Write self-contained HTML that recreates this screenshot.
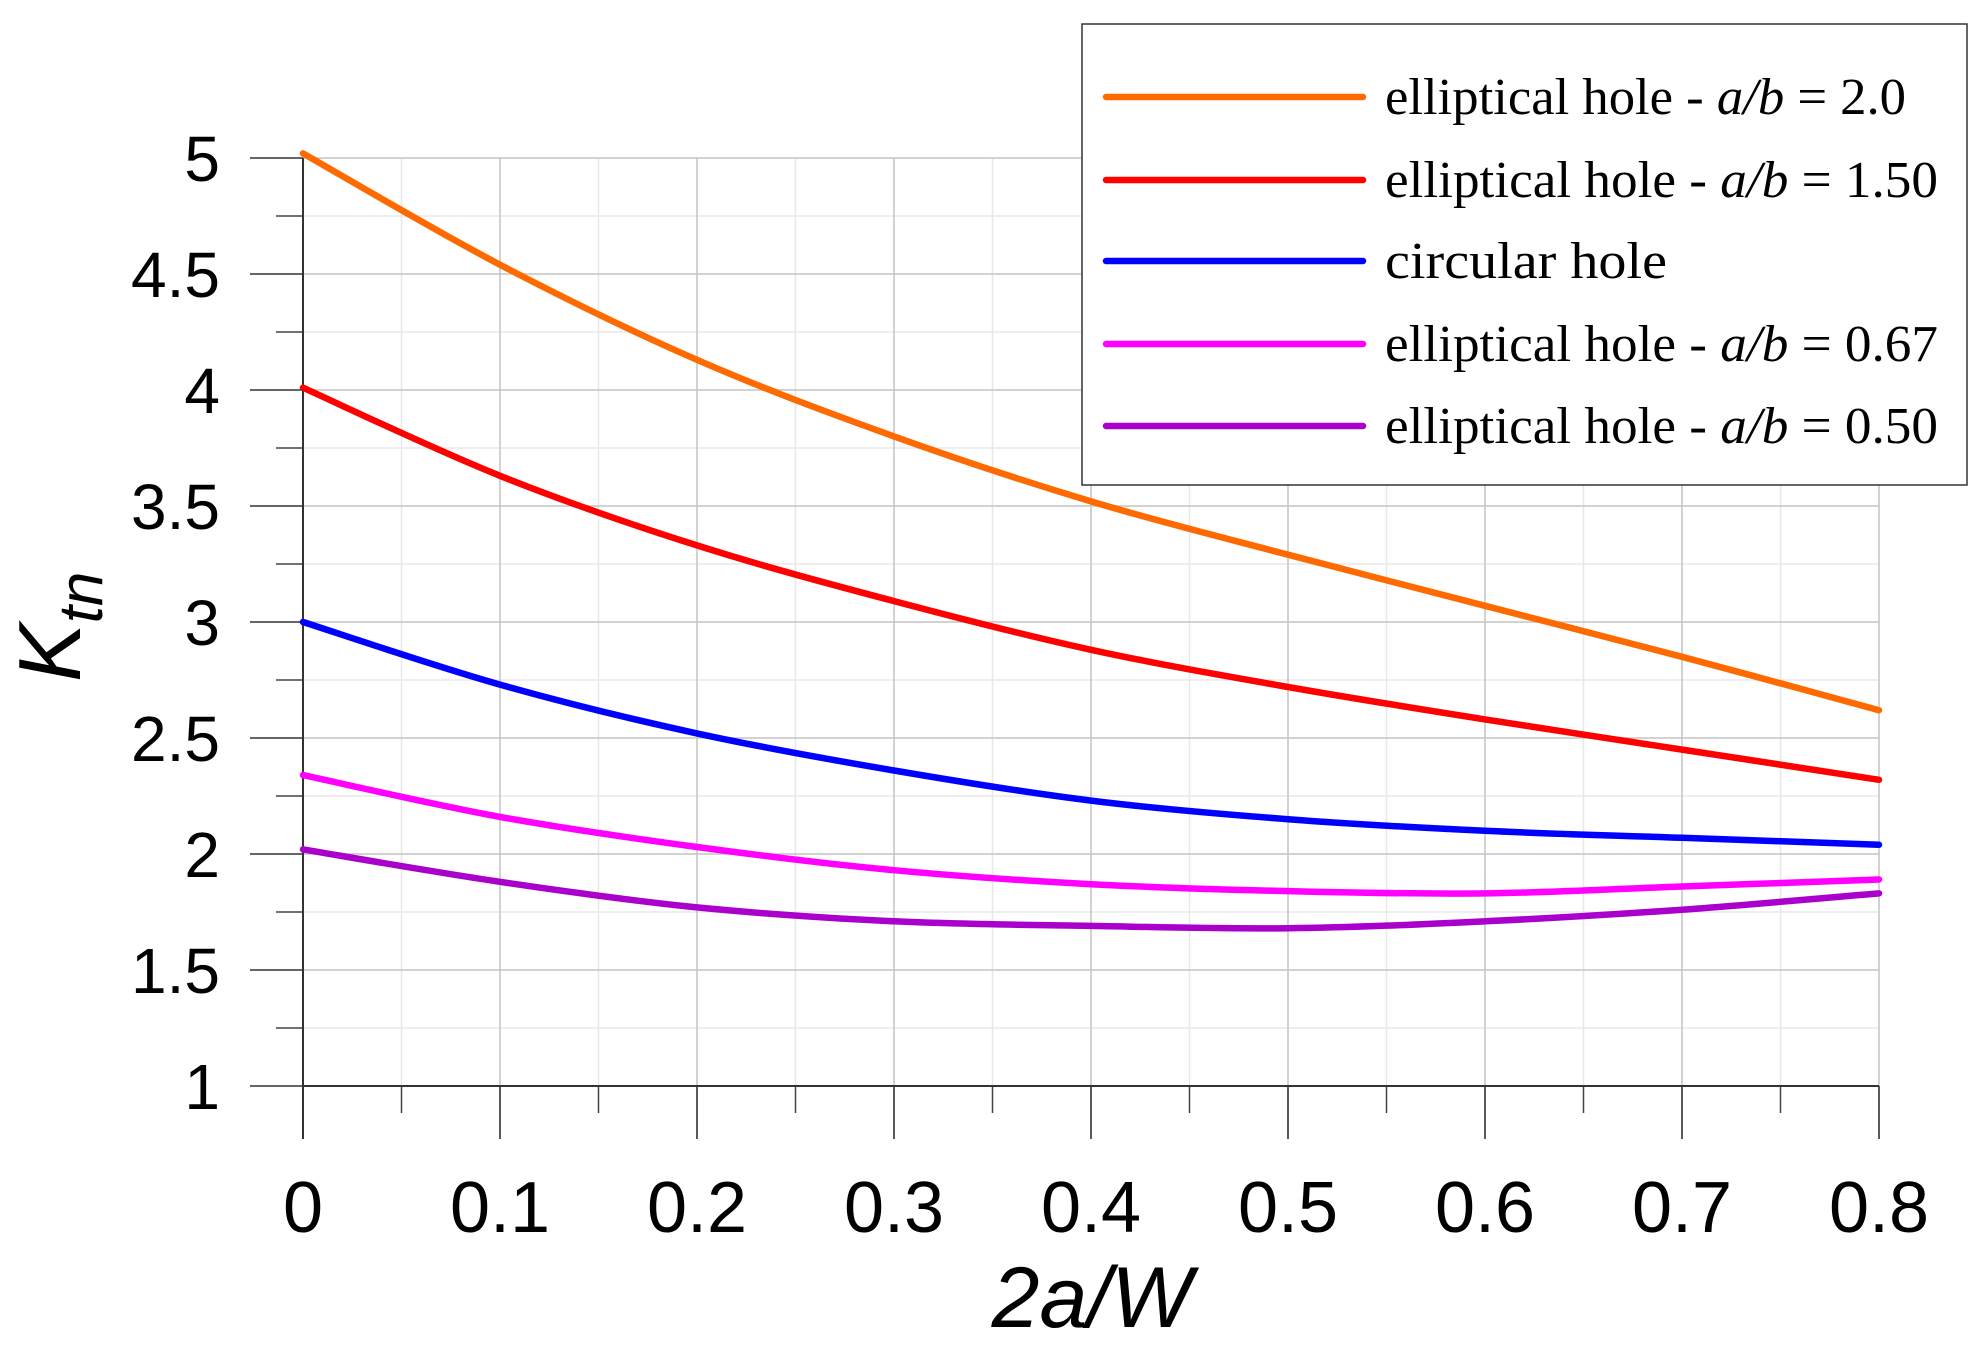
<!DOCTYPE html>
<html><head><meta charset="utf-8"><style>
html,body{margin:0;padding:0;background:#fff;}
svg{display:block;}
</style></head><body>
<svg id="chart" width="1983" height="1350" viewBox="0 0 1983 1350" xmlns="http://www.w3.org/2000/svg">
<g id="grid"></g>
<g id="axes"></g>
<g id="series"></g>
<text x="1092" y="1327" text-anchor="middle" font-family="Liberation Sans, sans-serif" font-style="italic" font-size="86">2a/W</text>
<text transform="translate(80,682) rotate(-90)" font-family="Liberation Sans, sans-serif" font-style="italic" font-size="88">K<tspan font-size="62" dy="22">tn</tspan></text>
<g id="legend">
<rect x="1082" y="24" width="885" height="461" fill="#fff" stroke="#333" stroke-width="1.5"/>
</g>
</svg>
<script>
const xTicks = [0,0.1,0.2,0.3,0.4,0.5,0.6,0.7,0.8];
const xTickLabels = ["0","0.1","0.2","0.3","0.4","0.5","0.6","0.7","0.8"];
const yTicks = [1,1.5,2,2.5,3,3.5,4,4.5,5];
const yTickLabels = ["1","1.5","2","2.5","3","3.5","4","4.5","5"];
const xValues = [0,0.1,0.2,0.3,0.4,0.5,0.6,0.7,0.8];
const seriesAb20 = [5.02,4.54,4.13,3.80,3.52,3.29,3.07,2.85,2.62];
const seriesAb150 = [4.01,3.63,3.33,3.09,2.88,2.72,2.58,2.45,2.32];
const seriesCircular = [3.00,2.73,2.52,2.36,2.23,2.15,2.10,2.07,2.04];
const seriesAb067 = [2.34,2.16,2.03,1.93,1.87,1.84,1.83,1.86,1.89];
const seriesAb050 = [2.02,1.88,1.77,1.71,1.69,1.68,1.71,1.76,1.83];
const seriesNames = ["elliptical hole - a/b = 2.0","elliptical hole - a/b = 1.50","circular hole","elliptical hole - a/b = 0.67","elliptical hole - a/b = 0.50"];
const seriesColors = ["#ff6a00","#ff0000","#0000ff","#ff00ff","#aa00cc"];
const allSeries = [seriesAb20,seriesAb150,seriesCircular,seriesAb067,seriesAb050];

const NS="http://www.w3.org/2000/svg";
const X0=303, X1=1879, Y0=1086, Y1=158;
const xScale=v=>X0+(v-0)/(0.8-0)*(X1-X0);
const yScale=v=>Y0-(v-1)/(5-1)*(Y0-Y1);
function mk(tag,attrs,parent){const e=document.createElementNS(NS,tag);for(const k in attrs)e.setAttribute(k,attrs[k]);parent.appendChild(e);return e;}
const grid=document.getElementById('grid'), axes=document.getElementById('axes'), ser=document.getElementById('series'), leg=document.getElementById('legend');

for(let i=0;i<xTicks.length-1;i++){
  const v=(xTicks[i]+xTicks[i+1])/2;
  const l=mk('line',{x1:xScale(v),x2:xScale(v),y1:Y1,y2:Y0,stroke:'#e8e8e8','stroke-width':1.5},grid);
  
  
  const t=mk('line',{x1:xScale(v),x2:xScale(v),y1:Y0,y2:Y0+27,stroke:'#444','stroke-width':1.5},axes);
  
  
}
for(let i=0;i<yTicks.length-1;i++){
  const v=(yTicks[i]+yTicks[i+1])/2;
  const l=mk('line',{x1:X0,x2:X1,y1:yScale(v),y2:yScale(v),stroke:'#e8e8e8','stroke-width':1.5},grid);
  
  
  const t=mk('line',{x1:276,x2:X0,y1:yScale(v),y2:yScale(v),stroke:'#444','stroke-width':1.5},axes);
  
  
}
xTicks.forEach((v,i)=>{
  const l=mk('line',{x1:xScale(v),x2:xScale(v),y1:Y1,y2:Y0,stroke:'#c4c4c4','stroke-width':1.5},grid);
  
  
  const t=mk('line',{x1:xScale(v),x2:xScale(v),y1:Y0,y2:1139,stroke:'#222','stroke-width':1.5},axes);
  
  
  const tx=mk('text',{x:xScale(v),y:1232,'text-anchor':'middle','font-family':'Liberation Sans, sans-serif','font-size':72,fill:'#000'},axes);
  tx.textContent=xTickLabels[i];
  
  
});
yTicks.forEach((v,i)=>{
  const l=mk('line',{x1:X0,x2:X1,y1:yScale(v),y2:yScale(v),stroke:'#c4c4c4','stroke-width':1.5},grid);
  
  
  const t=mk('line',{x1:250,x2:X0,y1:yScale(v),y2:yScale(v),stroke:'#333','stroke-width':1.5},axes);
  
  
  const tx=mk('text',{x:220,y:yScale(v)+23,'text-anchor':'end','font-family':'Liberation Sans, sans-serif','font-size':64,fill:'#000'},axes);
  tx.textContent=yTickLabels[i];
  
  
});
const xa=mk('line',{x1:X0,x2:X1,y1:Y0,y2:Y0,stroke:'#333','stroke-width':2},axes);


const ya=mk('line',{x1:X0,x2:X0,y1:Y1,y2:1139,stroke:'#333','stroke-width':2},axes);



function smoothPath(P){
  let d='M'+P[0][0].toFixed(1)+','+P[0][1].toFixed(1);
  for(let i=0;i<P.length-1;i++){
    const p0=P[Math.max(0,i-1)],p1=P[i],p2=P[i+1],p3=P[Math.min(P.length-1,i+2)];
    const c1x=p1[0]+(p2[0]-p0[0])/6,c1y=p1[1]+(p2[1]-p0[1])/6;
    const c2x=p2[0]-(p3[0]-p1[0])/6,c2y=p2[1]-(p3[1]-p1[1])/6;
    d+=' C'+c1x.toFixed(1)+','+c1y.toFixed(1)+' '+c2x.toFixed(1)+','+c2y.toFixed(1)+' '+p2[0].toFixed(1)+','+p2[1].toFixed(1);
  }
  return d;
}
allSeries.forEach((s,k)=>{
  const P=s.map((v,i)=>[xScale(xValues[i]),yScale(v)]);
  const p=mk('path',{d:smoothPath(P),fill:'none',stroke:seriesColors[k],'stroke-width':6.5,'stroke-linejoin':'round','stroke-linecap':'round'},ser);
  
  
});

const rowY=[97,180,261,344,426];
const lens=[521,553,282,553,553];
seriesNames.forEach((name,k)=>{
  const l=mk('line',{x1:1106,x2:1363,y1:rowY[k],y2:rowY[k],stroke:seriesColors[k],'stroke-width':6.5,'stroke-linecap':'round'},leg);
  
  
  const t=mk('text',{x:1385,y:rowY[k]+17,'font-family':'Liberation Serif, serif','font-size':52,fill:'#000',textLength:lens[k],lengthAdjust:'spacingAndGlyphs'},leg);
  if(name.indexOf('a/b')>=0){
    const parts=name.split('a/b');
    t.appendChild(document.createTextNode(parts[0]));
    const it=mk('tspan',{'font-style':'italic'},t);
    it.textContent='a/b';
    t.appendChild(document.createTextNode(parts[1]));
  } else t.textContent=name;
  
  
});
</script>
</body></html>
